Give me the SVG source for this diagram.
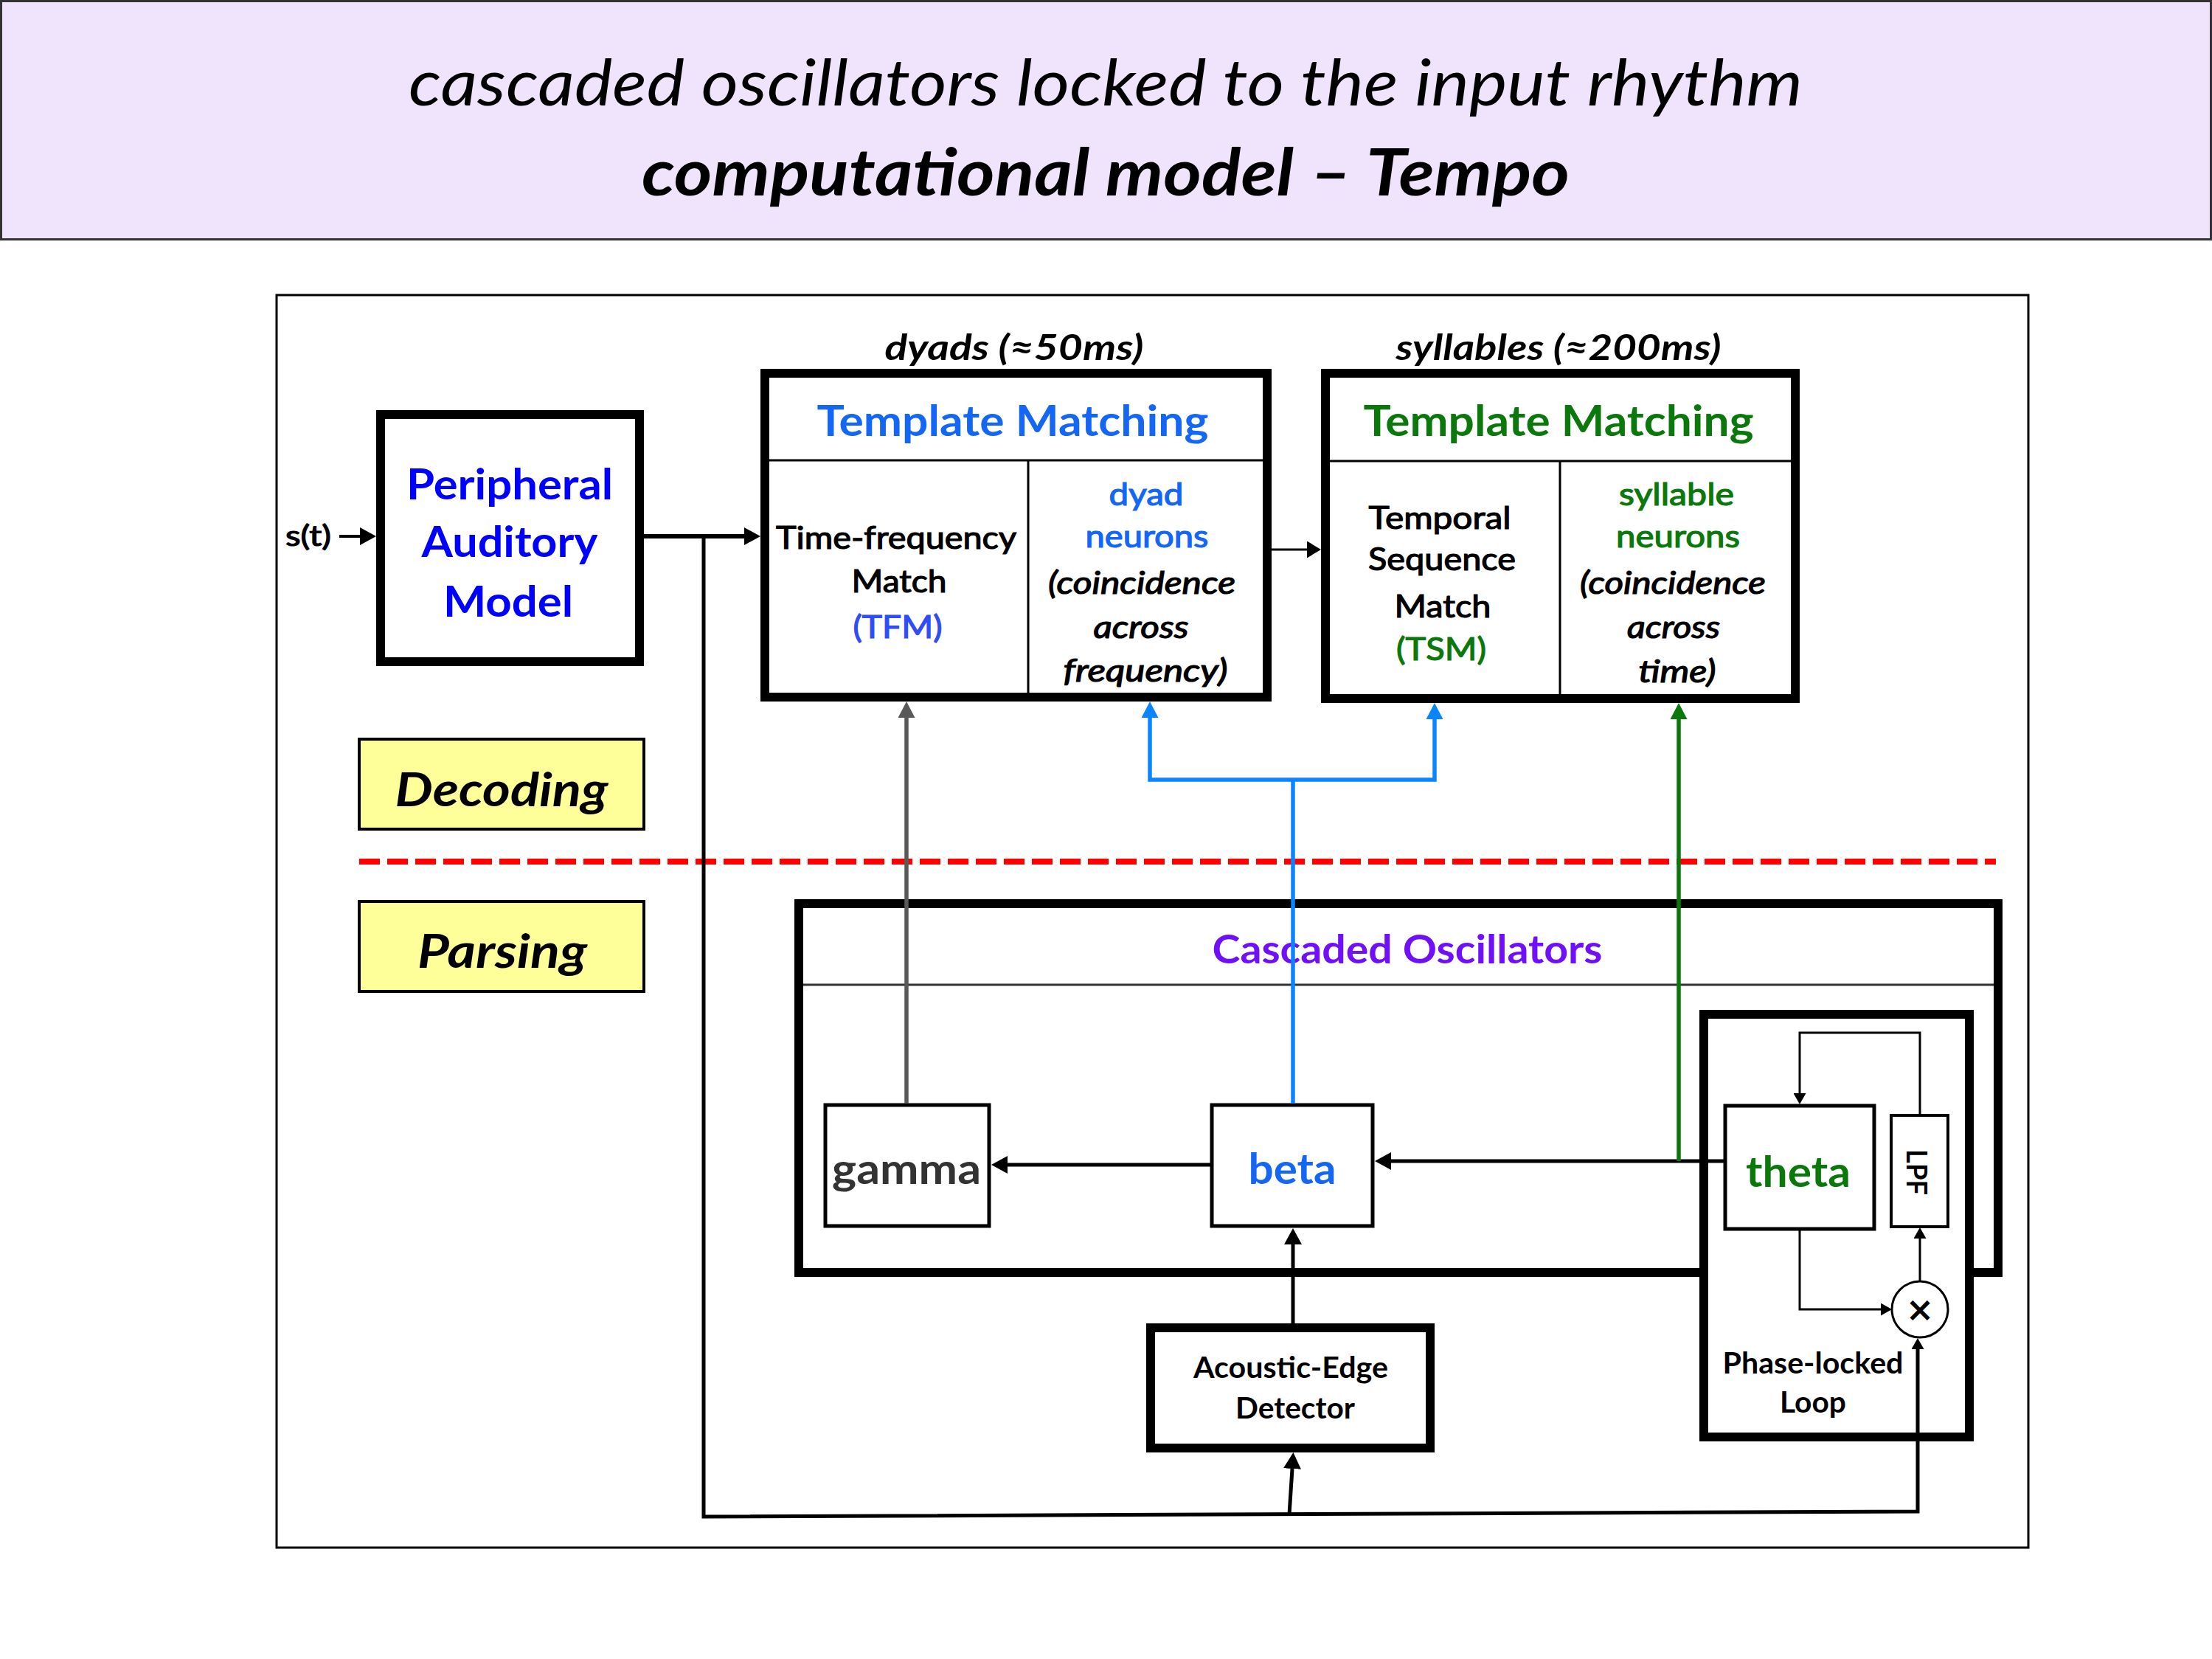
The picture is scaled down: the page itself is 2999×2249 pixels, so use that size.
<svg xmlns="http://www.w3.org/2000/svg" width="2999" height="2249" viewBox="0 0 2999 2249">
<style>
text{font-family:Lato,"Liberation Sans",sans-serif;text-anchor:middle;fill:#000}
.b{font-weight:bold}
.sb{stroke-width:1.2;stroke:#000}
.sb.blue1{stroke:#1466f5}
.sb.blue2{stroke:#2f4cf5}
.sb.green{stroke:#0a780a}
.i{font-style:italic}
.thick{fill:#fff;stroke:#000;stroke-width:12}
.med{fill:#fff;stroke:#000;stroke-width:5}
.thin{fill:none;stroke:#000;stroke-width:3}
.lbl{fill:#ffff99;stroke:#000;stroke-width:4}
.conn{fill:none;stroke:#000}
.blue1{fill:#1466f5}
.blue2{fill:#2f4cf5}
.green{fill:#0a780a}
.pur{fill:#7010f8}
</style>
<defs>
<marker id="ah" markerUnits="userSpaceOnUse" markerWidth="22" markerHeight="24" refX="0" refY="12" orient="auto"><path d="M0,0 L22,12 L0,24 z" fill="#000"/></marker>
<marker id="ahm" markerUnits="userSpaceOnUse" markerWidth="19" markerHeight="23" refX="0" refY="11.5" orient="auto"><path d="M0,0 L19,11.5 L0,23 z" fill="#000"/></marker>
<marker id="ahs" markerUnits="userSpaceOnUse" markerWidth="15" markerHeight="17" refX="0" refY="8.5" orient="auto"><path d="M0,0 L15,8.5 L0,17 z" fill="#000"/></marker>
<marker id="ahg" markerUnits="userSpaceOnUse" markerWidth="22" markerHeight="23" refX="0" refY="11.5" orient="auto"><path d="M0,0 L22,11.5 L0,23 z" fill="#595959"/></marker>
<marker id="ahb" markerUnits="userSpaceOnUse" markerWidth="22" markerHeight="23" refX="0" refY="11.5" orient="auto-start-reverse"><path d="M0,0 L22,11.5 L0,23 z" fill="#0a84ff"/></marker>
<marker id="ahgr" markerUnits="userSpaceOnUse" markerWidth="22" markerHeight="23" refX="0" refY="11.5" orient="auto"><path d="M0,0 L22,11.5 L0,23 z" fill="#0a780a"/></marker>
</defs>
<rect width="2999" height="2249" fill="#fff"/>
<g id="title">
<rect x="1.5" y="1.5" width="2996" height="323" fill="#f0e4fd" stroke="#333" stroke-width="3"/>
<text x="1499" y="143" class="i" font-size="88" textLength="1890" lengthAdjust="spacingAndGlyphs">cascaded oscillators locked to the input rhythm</text>
<text x="1499" y="265" class="b i" font-size="88" textLength="1258" lengthAdjust="spacingAndGlyphs">computational model – Tempo</text>
</g>
<rect id="frame" x="375" y="400" width="2375" height="1698" fill="none" stroke="#000" stroke-width="3"/>
<g id="input">
<text x="418" y="740" font-size="38" textLength="62" lengthAdjust="spacingAndGlyphs" class="sb">s(t)</text>
</g>
<g id="pam">
<rect x="516" y="562" width="351" height="335" class="thick"/>
<text x="691" y="677" class="b" font-size="58" style="fill:#0000ff" textLength="280" lengthAdjust="spacingAndGlyphs">Peripheral</text>
<text x="691" y="755" class="b" font-size="58" style="fill:#0000ff" textLength="239" lengthAdjust="spacingAndGlyphs">Auditory</text>
<text x="689" y="836" class="b" font-size="58" style="fill:#0000ff" textLength="176" lengthAdjust="spacingAndGlyphs">Model</text>
</g>
<g id="tm1">
<text x="1375" y="488" class="b i" font-size="48" textLength="351" lengthAdjust="spacingAndGlyphs">dyads (≈50ms)</text>
<rect x="1037" y="506" width="681" height="439" class="thick"/>
<line x1="1043" y1="624" x2="1712" y2="624" class="thin"/>
<line x1="1394" y1="624" x2="1394" y2="939" class="thin"/>
<text x="1373" y="591" class="b blue1" font-size="58" textLength="531" lengthAdjust="spacingAndGlyphs">Template Matching</text>
<text x="1215" y="744" class="sb" font-size="42" textLength="326" lengthAdjust="spacingAndGlyphs">Time-frequency</text>
<text x="1219" y="803" class="sb" font-size="42" textLength="129" lengthAdjust="spacingAndGlyphs">Match</text>
<text x="1217" y="865" class="sb blue2" font-size="42" textLength="121" lengthAdjust="spacingAndGlyphs">(TFM)</text>
<text x="1554" y="685" class="sb blue1" font-size="42" textLength="101" lengthAdjust="spacingAndGlyphs">dyad</text>
<text x="1555" y="742" class="sb blue1" font-size="42" textLength="167" lengthAdjust="spacingAndGlyphs">neurons</text>
<text x="1548" y="805" class="sb i" font-size="42" textLength="254" lengthAdjust="spacingAndGlyphs">(coincidence</text>
<text x="1547" y="865" class="sb i" font-size="42" textLength="129" lengthAdjust="spacingAndGlyphs">across</text>
<text x="1553" y="924" class="sb i" font-size="42" textLength="223" lengthAdjust="spacingAndGlyphs">frequency)</text>
</g>
<g id="tm2">
<text x="2113" y="488" class="b i" font-size="48" textLength="441" lengthAdjust="spacingAndGlyphs">syllables (≈200ms)</text>
<rect x="1797" y="506" width="637" height="441" class="thick"/>
<line x1="1803" y1="625" x2="2428" y2="625" class="thin"/>
<line x1="2115" y1="625" x2="2115" y2="941" class="thin"/>
<text x="2113" y="591" class="b green" font-size="58" textLength="529" lengthAdjust="spacingAndGlyphs">Template Matching</text>
<text x="1952" y="717" class="sb" font-size="42" textLength="193" lengthAdjust="spacingAndGlyphs">Temporal</text>
<text x="1955" y="773" class="sb" font-size="42" textLength="200" lengthAdjust="spacingAndGlyphs">Sequence</text>
<text x="1956" y="837" class="sb" font-size="42" textLength="131" lengthAdjust="spacingAndGlyphs">Match</text>
<text x="1954" y="895" class="sb green" font-size="42" textLength="122" lengthAdjust="spacingAndGlyphs">(TSM)</text>
<text x="2273" y="685" class="sb green" font-size="42" textLength="156" lengthAdjust="spacingAndGlyphs">syllable</text>
<text x="2275" y="742" class="sb green" font-size="42" textLength="168" lengthAdjust="spacingAndGlyphs">neurons</text>
<text x="2268" y="805" class="sb i" font-size="42" textLength="252" lengthAdjust="spacingAndGlyphs">(coincidence</text>
<text x="2269" y="865" class="sb i" font-size="42" textLength="126" lengthAdjust="spacingAndGlyphs">across</text>
<text x="2274" y="925" class="sb i" font-size="42" textLength="105" lengthAdjust="spacingAndGlyphs">time)</text>
</g>
<g id="decoding">
<rect x="487" y="1002" width="386" height="122" class="lbl"/>
<text x="680" y="1093" class="b i" font-size="64" textLength="289" lengthAdjust="spacingAndGlyphs">Decoding</text>
</g>
<g id="parsing">
<rect x="487" y="1222" width="386" height="122" class="lbl"/>
<text x="681" y="1312" class="b i" font-size="64" textLength="230" lengthAdjust="spacingAndGlyphs">Parsing</text>
</g>
<line id="divider" x1="487" y1="1168" x2="2706" y2="1168" stroke="#ff0000" stroke-width="8" stroke-dasharray="28 10"/>
<g id="cascaded">
<rect x="1083" y="1225" width="1626" height="500" class="thick"/>
<line x1="1089" y1="1335" x2="2703" y2="1335" stroke="#333" stroke-width="3"/>
<text x="1908" y="1306" class="b pur" font-size="54" textLength="529" lengthAdjust="spacingAndGlyphs">Cascaded Oscillators</text>
</g>
<g id="gamma">
<rect x="1119" y="1498" width="222" height="164" class="med"/>
<text x="1229" y="1605" class="b" font-size="58" style="fill:#333" textLength="202" lengthAdjust="spacingAndGlyphs">gamma</text>
</g>
<g id="beta">
<rect x="1643" y="1498" width="218" height="164" class="med"/>
<text x="1752" y="1605" class="b blue1" font-size="58" textLength="119" lengthAdjust="spacingAndGlyphs">beta</text>
</g>
<g id="pll">
<rect x="2310" y="1375" width="360" height="573" class="thick"/>
<text x="2458" y="1862" class="b" font-size="40" textLength="245" lengthAdjust="spacingAndGlyphs">Phase-locked</text>
<text x="2458" y="1915" class="b" font-size="40" textLength="90" lengthAdjust="spacingAndGlyphs">Loop</text>
</g>
<g id="theta">
<rect x="2339" y="1499" width="202" height="167" class="med"/>
<text x="2438" y="1609" class="b green" font-size="58" textLength="142" lengthAdjust="spacingAndGlyphs">theta</text>
</g>
<g id="lpf">
<rect x="2564" y="1512" width="77" height="151" fill="#fff" stroke="#000" stroke-width="4"/>
<text x="2600" y="1589" class="b" font-size="38" dominant-baseline="central" transform="rotate(90 2600 1589)" textLength="62" lengthAdjust="spacingAndGlyphs">LPF</text>
</g>
<g id="mult">
<circle cx="2603" cy="1775" r="38" fill="#fff" stroke="#000" stroke-width="3"/>
<text x="2603" y="1791" class="b" font-size="46" style="font-family:'DejaVu Sans',sans-serif">×</text>
</g>
<g id="aed">
<rect x="1560" y="1800" width="379" height="163" class="thick"/>
<text x="1750" y="1868" class="b" font-size="40" textLength="264" lengthAdjust="spacingAndGlyphs">Acoustic-Edge</text>
<text x="1756" y="1923" class="b" font-size="40" textLength="162" lengthAdjust="spacingAndGlyphs">Detector</text>
</g>
<g id="connectors">
<line x1="460" y1="727" x2="488" y2="727" class="conn" stroke-width="4" marker-end="url(#ah)"/>
<line x1="873" y1="727" x2="1009" y2="727" class="conn" stroke-width="6" marker-end="url(#ah)"/>
<polyline points="954,727 954,2056 2600,2049 2600,1829" class="conn" stroke-width="5" stroke-linejoin="miter" marker-end="url(#ahs)"/>
<line x1="1748" y1="2053" x2="1752" y2="1991" class="conn" stroke-width="5" marker-end="url(#ah)"/>
<line x1="1753" y1="1794" x2="1753" y2="1687" class="conn" stroke-width="5" marker-end="url(#ah)"/>
<line x1="1641" y1="1579" x2="1366" y2="1579" class="conn" stroke-width="5" marker-end="url(#ah)"/>
<line x1="2337" y1="1574" x2="1886" y2="1574" class="conn" stroke-width="5" marker-end="url(#ah)"/>
<line x1="2276" y1="1574" x2="2276" y2="975" stroke="#0a780a" stroke-width="5.5" marker-end="url(#ahgr)"/>
<line x1="1229" y1="1496" x2="1229" y2="973" stroke="#595959" stroke-width="5.5" marker-end="url(#ahg)"/>
<line x1="1753" y1="1496" x2="1753" y2="1057" stroke="#0a84ff" stroke-width="5.5"/>
<path d="M1559,973 V1057 H1945 V975" fill="none" stroke="#0a84ff" stroke-width="5.5" stroke-linejoin="miter" marker-start="url(#ahb)" marker-end="url(#ahb)"/>
<line x1="1724" y1="745" x2="1772" y2="745" class="conn" stroke-width="3" marker-end="url(#ahm)"/>
<path d="M2603,1510 V1400 H2440 V1482" class="conn" stroke-width="3" marker-end="url(#ahs)"/>
<path d="M2440,1668 V1775 H2550" class="conn" stroke-width="3" marker-end="url(#ahs)"/>
<line x1="2603" y1="1737" x2="2603" y2="1679" class="conn" stroke-width="3" marker-end="url(#ahs)"/>
</g>
</svg>
